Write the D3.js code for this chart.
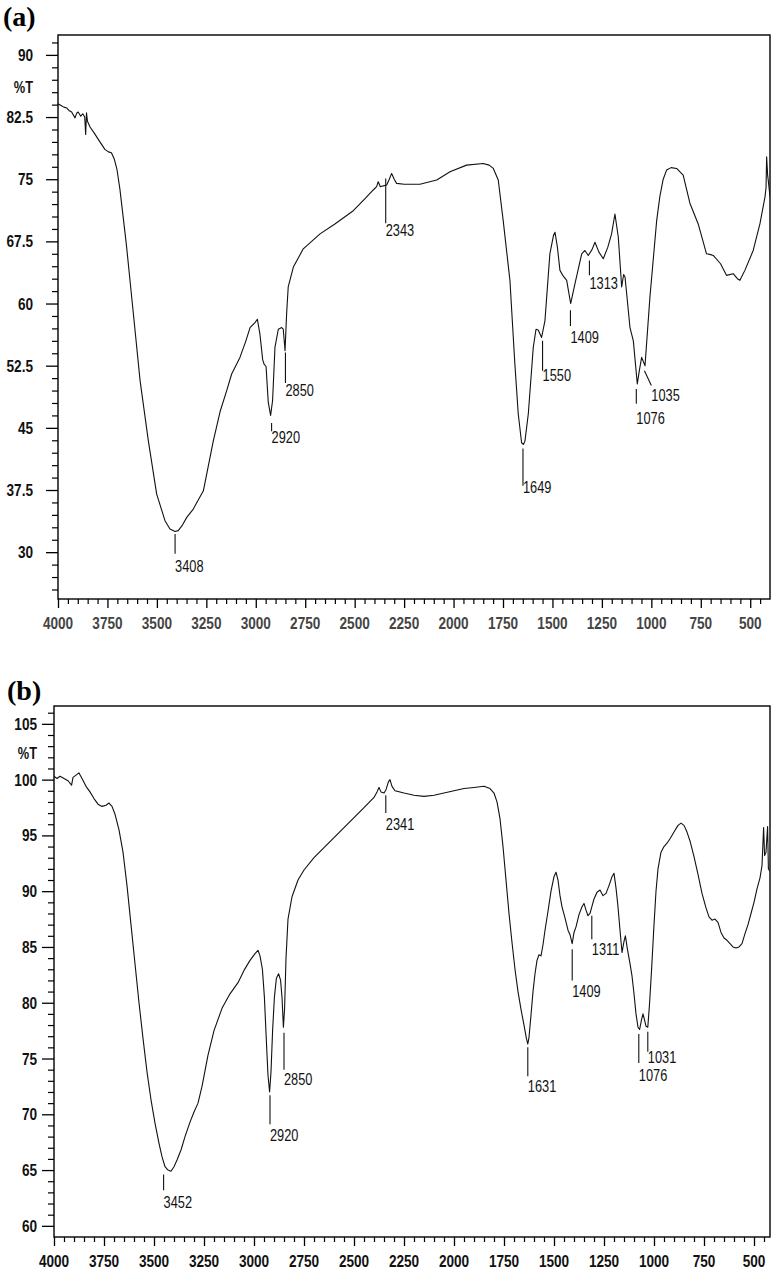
<!DOCTYPE html>
<html><head><meta charset="utf-8">
<script src="https://cdn.jsdelivr.net/npm/d3@7"></script>
<style>body{margin:0;background:#fff;} svg{display:block}</style>
</head><body><svg id="c" width="774" height="1270"></svg>
<script>
// ---------- DATA ----------
const wnA = [4000,3985,3970,3956,3945,3931,3914,3905,3898,3885,3875,3865,3860,3856,3851,3838,3815,3788,3763,3745,3730,3715,3702,3687,3661,3653,3619,3585,3543,3501,3459,3434,3408,3392,3370,3349,3316,3265,3215,3180,3147,3122,3080,3050,3029,3004,2992,2979,2965,2958,2948,2937,2925,2915,2903,2886,2869,2861,2852,2844,2836,2810,2760,2675,2600,2507,2450,2406,2389,2381,2370,2355,2338,2325,2313,2300,2288,2250,2170,2085,2018,1934,1850,1820,1799,1774,1749,1715,1690,1673,1656,1647,1639,1622,1597,1583,1572,1555,1538,1513,1495,1487,1475,1462,1445,1428,1408,1386,1352,1336,1319,1300,1285,1265,1243,1220,1201,1184,1167,1150,1140,1133,1108,1091,1071,1060,1049,1032,1007,973,957,940,923,900,872,839,805,763,721,700,687,650,620,586,565,552,527,485,451,425,420,417,412,409,400];
const tA = [84.1,83.9,83.7,83.6,83.3,83.1,82.4,83.0,83.1,82.6,82.9,82.5,80.4,83.0,82.0,81.3,80.5,79.5,78.6,78.3,78.2,77.4,76.2,73.8,68.5,66.8,58.8,50.7,43.4,37.0,33.8,32.8,32.5,32.6,33.3,34.2,35.2,37.4,43.4,47.0,49.5,51.5,53.5,55.5,57.1,57.7,58.1,56.3,53.2,52.7,52.4,48.1,46.5,48.3,54.7,56.9,57.1,56.9,54.3,58.8,62.0,64.4,66.6,68.4,69.6,71.2,72.6,73.7,74.1,74.7,74.1,74.2,74.3,75.0,75.7,75.0,74.5,74.4,74.4,74.9,75.9,76.7,76.9,76.7,76.3,74.9,70.0,62.8,52.7,46.7,43.2,43.0,43.4,46.7,54.7,56.9,56.8,55.9,57.9,66.0,68.2,68.6,66.8,64.0,63.3,62.8,60.0,62.4,66.0,66.4,65.8,66.5,67.4,66.2,65.4,66.8,68.4,70.8,68.0,62.0,63.5,63.2,57.1,55.5,50.3,52.0,53.5,52.5,60.8,70.0,72.9,75.0,76.1,76.4,76.3,75.5,72.1,69.6,66.0,65.9,65.8,64.8,63.4,63.6,63.0,62.8,64.0,66.4,69.6,72.9,74.0,77.7,75.5,74.9,72.9];

const wnB = [4000,3985,3970,3950,3930,3912,3905,3890,3875,3860,3840,3820,3800,3780,3760,3740,3725,3710,3695,3675,3655,3635,3615,3595,3575,3555,3535,3515,3495,3475,3460,3445,3430,3415,3400,3385,3365,3345,3320,3300,3280,3260,3230,3200,3160,3120,3080,3050,3020,2995,2980,2970,2958,2948,2938,2930,2922,2915,2907,2898,2888,2877,2867,2860,2853,2847,2840,2830,2810,2780,2750,2700,2650,2600,2550,2500,2450,2400,2385,2375,2365,2350,2340,2328,2320,2310,2295,2250,2200,2150,2100,2050,2000,1950,1900,1850,1820,1800,1785,1770,1755,1740,1725,1710,1695,1680,1665,1650,1638,1631,1625,1615,1605,1595,1585,1575,1565,1555,1545,1530,1515,1500,1490,1480,1470,1460,1445,1430,1420,1409,1400,1390,1375,1360,1350,1340,1330,1320,1311,1300,1285,1270,1255,1240,1225,1210,1200,1190,1180,1170,1160,1150,1143,1133,1120,1110,1100,1090,1080,1072,1062,1055,1048,1040,1031,1022,1012,1000,990,980,965,950,935,920,900,880,865,850,835,820,800,780,760,740,725,710,695,680,665,650,635,620,605,590,575,560,545,530,515,500,485,470,460,452,447,440,432,428,420];
const tB = [100.3,100.1,100.3,100.1,99.9,99.5,100.2,100.4,100.6,100.1,99.4,98.9,98.3,97.8,97.6,97.7,97.9,97.6,96.9,95.5,93.5,90.5,87.0,83.5,80.0,76.8,73.8,71.3,69.2,67.4,66.2,65.3,65.0,64.9,65.3,65.9,66.8,68.0,69.3,70.2,71.0,72.5,75.3,77.5,79.5,80.8,81.8,82.9,83.8,84.4,84.7,84.2,83.0,80.5,76.5,73.5,72.0,73.8,77.5,80.5,82.2,82.6,82.0,80.5,77.8,79.5,84.0,87.5,89.5,91.0,91.9,93.0,93.9,94.8,95.7,96.6,97.5,98.4,98.9,99.3,98.9,98.8,99.1,99.8,100.0,99.4,99.0,98.8,98.6,98.5,98.6,98.8,99.0,99.2,99.3,99.4,99.2,98.8,98.0,96.5,94.0,91.0,88.0,85.4,83.0,81.0,79.4,78.0,76.8,76.3,76.9,78.9,81.0,82.6,83.8,84.3,84.2,85.2,86.5,88.2,90.0,91.3,91.7,91.0,89.6,88.6,87.6,86.5,86.1,85.3,86.3,86.8,87.9,88.6,88.9,88.3,87.8,88.0,88.6,89.3,89.9,90.1,89.6,89.8,90.5,91.3,91.6,90.3,88.6,86.5,84.5,85.5,86.0,84.8,83.5,82.4,80.8,79.0,77.8,77.6,78.5,79.0,78.5,77.9,77.8,80.0,83.0,87.0,90.0,92.0,93.5,94.0,94.3,94.7,95.3,95.9,96.1,95.9,95.3,94.5,93.1,91.5,89.8,88.5,87.7,87.4,87.5,87.2,86.3,85.8,85.6,85.3,85.0,84.9,85.0,85.3,86.2,87.0,88.0,89.0,90.2,91.2,92.3,95.7,93.2,93.5,95.8,92.0,91.8];

// peak annotations (wavenumber, line top %T, line bottom %T, label baseline %T, line-end wavenumber)
const peakWnA    = [3408, 2920, 2850, 2343, 1649, 1550, 1409, 1313, 1076, 1035];
const peakTopA   = [32.2, 45.6, 54.1, 75.1, 42.5, 55.5, 59.2, 65.2, 49.7, 51.9];
const peakBotA   = [29.8, 44.6, 50.4, 69.7, 38.0, 51.9, 57.3, 63.4, 47.9, 50.1];
const peakTextA  = [27.6, 43.2, 48.9, 68.2, 37.1, 50.7, 55.2, 61.8, 45.5, 48.2];
const peakEndWnA = [3408, 2920, 2850, 2343, 1649, 1550, 1409, 1313, 1076, 1000];

const peakWnB    = [3452, 2920, 2850, 2341, 1631, 1409, 1311, 1076, 1031];
const peakTopB   = [64.6, 71.7, 77.3, 98.6, 76.0, 84.8, 87.8, 77.2, 77.4];
const peakBotB   = [63.2, 69.1, 74.0, 97.0, 73.4, 82.0, 85.7, 74.6, 75.6];
const peakTextB  = [61.6, 67.6, 72.6, 95.5, 72.0, 80.5, 84.3, 73.0, 74.6];
const peakEndWnB = [3452, 2920, 2850, 2341, 1631, 1409, 1311, 1076, 1031];

const xTickLabels = ["4000","3750","3500","3250","3000","2750","2500","2250","2000","1750","1500","1250","1000","750","500"];
const yTickLabelsA = ["90","82.5","75","67.5","60","52.5","45","37.5","30"];
const yTickLabelsB = ["105","100","95","90","85","80","75","70","65","60"];
const yAxisTitle = "%T";
const panelTitles = ["(a)", "(b)"];

// ---------- DRAW ----------
const svg = d3.select("#c");

function panel(o) {
  const g = svg.append("g");
  const x = d3.scaleLinear().domain(o.xDomain).range([o.left, o.right]);
  const y = d3.scaleLinear().domain(o.yDomain).range([o.bottom, o.top]);

  // frame
  g.append("rect").attr("x", o.left).attr("y", o.top)
    .attr("width", o.right - o.left).attr("height", o.bottom - o.top)
    .attr("fill", "none").attr("stroke", "#000").attr("stroke-width", 1.4);

  // x ticks
  const xMajor = xTickLabels.map(Number);
  const xMinor = d3.range(4000, o.xDomain[1], -50).filter(v => v % 250 !== 0);
  const xAxis = d3.axisBottom(x).tickValues(xMajor).tickSize(9).tickFormat("");
  const gx = g.append("g").attr("transform", `translate(0,${o.bottom})`).call(xAxis);
  gx.select(".domain").remove();
  gx.selectAll("line").attr("stroke", "#000").attr("stroke-width", 1.3);
  const xAxisMinor = d3.axisBottom(x).tickValues(xMinor).tickSize(5).tickFormat("");
  const gxm = g.append("g").attr("transform", `translate(0,${o.bottom})`).call(xAxisMinor);
  gxm.select(".domain").remove();
  gxm.selectAll("line").attr("stroke", "#000").attr("stroke-width", 1.2);
  xTickLabels.forEach(t => {
    g.append("text").attr("transform", `translate(${x(+t)},${o.bottom + 30}) scale(0.8,1)`)
      .attr("text-anchor", "middle")
      .attr("font-family", "Liberation Sans, Arial, sans-serif").attr("font-weight", "bold")
      .attr("font-size", 17).attr("fill", o.xLabelColor).text(t);
  });

  // y ticks
  const yMajor = o.yLabels.map(Number);
  const yAxis = d3.axisLeft(y).tickValues(yMajor).tickSize(12).tickFormat("");
  const gy = g.append("g").attr("transform", `translate(${o.left},0)`).call(yAxis);
  gy.select(".domain").remove();
  gy.selectAll("line").attr("stroke", "#000").attr("stroke-width", 1.3);
  const yAxisMinor = d3.axisLeft(y).tickValues(o.yMinor).tickSize(6).tickFormat("");
  const gym = g.append("g").attr("transform", `translate(${o.left},0)`).call(yAxisMinor);
  gym.select(".domain").remove();
  gym.selectAll("line").attr("stroke", "#000").attr("stroke-width", 1.2);
  o.yLabels.forEach(t => {
    g.append("text").attr("transform", `translate(${o.left - o.yLabelGap},${y(+t) + 6}) scale(0.8,1)`)
      .attr("text-anchor", "end")
      .attr("font-family", "Liberation Sans, Arial, sans-serif").attr("font-weight", "bold")
      .attr("font-size", 17).attr("fill", "#111").text(t);
  });
  const tY = (y(yMajor[0]) + y(yMajor[1])) / 2 + 7;
  g.append("text").attr("transform", `translate(${o.left - o.yLabelGap},${tY}) scale(0.8,1)`)
    .attr("text-anchor", "end")
    .attr("font-family", "Liberation Sans, Arial, sans-serif").attr("font-weight", "bold")
    .attr("font-size", 16).attr("fill", "#111").text(yAxisTitle);

  // panel title
  g.append("text").attr("x", o.titleX).attr("y", o.titleY)
    .attr("font-family", "Liberation Serif, Times New Roman, serif").attr("font-weight", "bold")
    .attr("font-size", 28).attr("fill", "#000").text(o.title);

  // spectrum
  const pts = o.wn.map((w, i) => [w, o.t[i]]);
  const clipId = "clip" + o.title.replace(/\W/g, "");
  svg.append("clipPath").attr("id", clipId).append("rect")
    .attr("x", o.left).attr("y", o.top).attr("width", o.right - o.left).attr("height", o.bottom - o.top);
  g.append("path").datum(pts)
    .attr("clip-path", `url(#${clipId})`)
    .attr("d", d3.line().x(d => x(d[0])).y(d => y(d[1])))
    .attr("fill", "none").attr("stroke", "#111").attr("stroke-width", 1.1)
    .attr("stroke-linejoin", "round");

  // peak annotations
  o.pWn.forEach((w, i) => {
    g.append("line")
      .attr("x1", x(w)).attr("y1", y(o.pTop[i]))
      .attr("x2", x(o.pEnd[i])).attr("y2", y(o.pBot[i]))
      .attr("stroke", "#111").attr("stroke-width", 1.1);
    g.append("text")
      .attr("transform", `translate(${x(o.pEnd[i])},${y(o.pText[i])}) scale(0.8,1)`)
      .attr("font-family", "Liberation Sans, Arial, sans-serif")
      .attr("font-size", 16).attr("fill", "#111").text(String(w));
  });
}

panel({
  title: panelTitles[0], titleX: 3, titleY: 26,
  left: 58, right: 770, top: 35, bottom: 599,
  xDomain: [4000, 400], yDomain: [24.35, 92.4],
  yLabels: yTickLabelsA, yMinor: d3.range(25.5, 92, 1.5).filter(v => Math.abs((v / 7.5) - Math.round(v / 7.5)) > 1e-6),
  yLabelGap: 25, xLabelColor: "#444",
  wn: wnA, t: tA,
  pWn: peakWnA, pTop: peakTopA, pBot: peakBotA, pText: peakTextA, pEnd: peakEndWnA
});

panel({
  title: panelTitles[1], titleX: 7, titleY: 700,
  left: 54, right: 770, top: 706, bottom: 1237,
  xDomain: [4000, 420], yDomain: [59.0, 106.6],
  yLabels: yTickLabelsB, yMinor: d3.range(60, 107, 1).filter(v => v % 5 !== 0),
  yLabelGap: 17, xLabelColor: "#111",
  wn: wnB, t: tB,
  pWn: peakWnB, pTop: peakTopB, pBot: peakBotB, pText: peakTextB, pEnd: peakEndWnB
});
</script>
</body></html>
